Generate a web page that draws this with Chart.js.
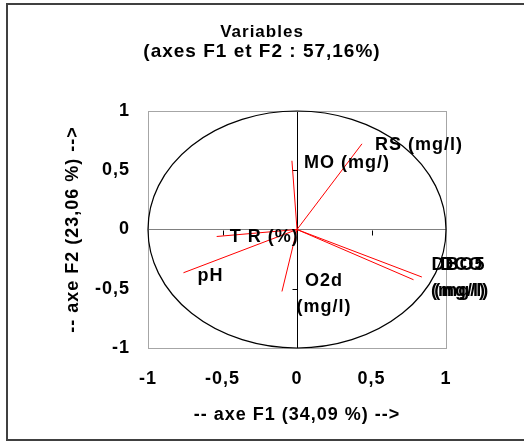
<!DOCTYPE html>
<html><head><meta charset="utf-8">
<script src="https://cdn.jsdelivr.net/npm/chart.js@4/dist/chart.umd.min.js"></script>
<style>html,body{margin:0;padding:0;background:#fff}</style>
</head><body>
<canvas id="c" width="524" height="441"></canvas>
<script>
// ---- data ----
const variableNames = ['RS (mg/l)', 'MO (mg/)', 'T R (%)', 'pH', 'O2d\n(mg/l)', 'DBO5\n(mg/l)', 'DCO\n(mg/l)'];
const f1Values = [0.436, -0.034, -0.539, -0.762, -0.101, 0.782, 0.838];
const f2Values = [0.723, 0.580, -0.059, -0.365, -0.523, -0.424, -0.401];
const xTickLabels = ['-1', '-0,5', '0', '0,5', '1'];
const yTickLabels = ['-1', '-0,5', '0', '0,5', '1'];
const chartTitle = 'Variables';
const chartSubtitle = '(axes F1 et F2 : 57,16%)';
const xAxisTitle = '-- axe F1 (34,09 %) -->';
const yAxisTitle = '-- axe F2 (23,06 %) -->';

// ---- label placement (pixels, style only) ----
const labelPlacement = [
  {dx: 13, dy: 1, align: 'left'},
  {dx: 12, dy: 2, align: 'left'},
  {dx: 13, dy: 1, align: 'left'},
  {dx: 14, dy: 3, align: 'left'},
  {dx: 42, dy: -10, align: 'center'},
  {dx: 45, dy: -15, align: 'center'},
  {dx: 40, dy: -12, align: 'center'}
];

const FONT = "'Liberation Sans', Arial, sans-serif";
const boldFont = (size) => ({family: FONT, size: size, weight: 'bold'});

const datasets = variableNames.map((name, i) => ({
  label: name,
  data: [{x: 0, y: 0}, {x: f1Values[i], y: f2Values[i]}],
  showLine: true,
  borderColor: '#ff0000',
  borderWidth: 1,
  pointRadius: 0,
  fill: false
}));

const spacing = (chart) => { if ('letterSpacing' in chart.ctx) chart.ctx.letterSpacing = '1px'; };

const framePlugin = {
  id: 'frame',
  beforeLayout(chart) { spacing(chart); },
  beforeDraw(chart) {
    spacing(chart);
    const ctx = chart.ctx;
    ctx.save();
    ctx.fillStyle = '#ffffff';
    ctx.fillRect(0, 0, chart.width, chart.height);
    ctx.strokeStyle = '#404040';
    ctx.lineWidth = 2;
    ctx.strokeRect(7, 4, 540, 436);
    ctx.restore();
  },
  beforeDatasetsDraw(chart) {
    const ctx = chart.ctx;
    const a = chart.chartArea;
    const xs = chart.scales.x, ys = chart.scales.y;
    ctx.save();
    ctx.strokeStyle = '#a6a6a6';
    ctx.lineWidth = 1;
    ctx.strokeRect(Math.round(a.left) + 0.5, Math.round(a.top) + 0.5, Math.round(a.right - a.left), Math.round(a.bottom - a.top));
    const x0 = Math.round(xs.getPixelForValue(0)) + 0.5;
    const y0 = Math.round(ys.getPixelForValue(0)) + 0.5;
    ctx.strokeStyle = '#000';
    ctx.beginPath();
    [-0.5, 0.5].forEach(v => {
      const px = Math.round(xs.getPixelForValue(v)) + 0.5;
      ctx.moveTo(px, y0); ctx.lineTo(px, y0 + 5);
      const py = Math.round(ys.getPixelForValue(v)) + 0.5;
      ctx.moveTo(x0 - 5, py); ctx.lineTo(x0, py);
    });
    ctx.stroke();
    const cx = xs.getPixelForValue(0), cy = ys.getPixelForValue(0);
    const rx = xs.getPixelForValue(1) - cx, ry = cy - ys.getPixelForValue(1);
    ctx.strokeStyle = '#000';
    ctx.lineWidth = 1.2;
    ctx.beginPath();
    ctx.ellipse(cx, cy, rx, ry, 0, 0, Math.PI * 2);
    ctx.stroke();
    ctx.restore();
  },
  afterDatasetsDraw(chart) {
    const ctx = chart.ctx;
    const xs = chart.scales.x, ys = chart.scales.y;
    ctx.save();
    ctx.fillStyle = '#000';
    ctx.font = "bold 18px " + FONT;
    ctx.textBaseline = 'middle';
    variableNames.forEach((name, i) => {
      const p = labelPlacement[i];
      const px = xs.getPixelForValue(f1Values[i]) + p.dx;
      const py = ys.getPixelForValue(f2Values[i]) + p.dy;
      ctx.textAlign = p.align;
      name.split('\n').forEach((line, k) => {
        ctx.fillText(line, px, py + k * 26);
      });
    });
    ctx.restore();
  }
};

new Chart(document.getElementById('c'), {
  type: 'scatter',
  data: {datasets: datasets},
  options: {
    responsive: false,
    devicePixelRatio: 1,
    animation: false,
    layout: {padding: 0},
    plugins: {
      legend: {display: false},
      tooltip: {enabled: false},
      title: {
        display: true,
        text: chartTitle,
        color: '#000',
        font: {family: FONT, size: 17, weight: 'bold', lineHeight: 20 / 17},
        padding: {top: 22, bottom: 0}
      },
      subtitle: {
        display: true,
        text: chartSubtitle,
        color: '#000',
        font: {family: FONT, size: 19, weight: 'bold', lineHeight: 20 / 19},
        padding: {top: 0, bottom: 49}
      }
    },
    scales: {
      x: {
        type: 'linear', min: -1, max: 1,
        ticks: {stepSize: 0.5, padding: 20, color: '#000', font: boldFont(18),
          callback: (v, i) => xTickLabels[i]},
        grid: {drawTicks: false, lineWidth: 1,
          color: (c) => (c.tick && c.tick.value === 0) ? '#000000' : 'rgba(0,0,0,0)'},
        border: {display: false},
        title: {display: true, text: xAxisTitle, color: '#000', font: boldFont(18), padding: {top: 0, bottom: 15}},
        afterFit(s) { s.height = 93; }
      },
      y: {
        type: 'linear', min: -1, max: 1,
        ticks: {stepSize: 0.5, padding: 18, color: '#000', font: boldFont(18),
          callback: (v, i) => yTickLabels[i]},
        grid: {drawTicks: false, lineWidth: 1,
          color: (c) => (c.tick && c.tick.value === 0) ? '#808080' : 'rgba(0,0,0,0)'},
        border: {display: false},
        title: {display: true, text: yAxisTitle, color: '#000', font: boldFont(18), padding: {top: 62, bottom: 0}},
        afterFit(s) { s.width = 148; }
      },
      yRight: {
        type: 'linear', position: 'right', display: true, min: -1, max: 1,
        ticks: {display: false},
        grid: {display: false, drawTicks: false},
        border: {display: false},
        afterFit(s) { s.width = 78; }
      }
    }
  },
  plugins: [framePlugin]
});
</script>
</body></html>
